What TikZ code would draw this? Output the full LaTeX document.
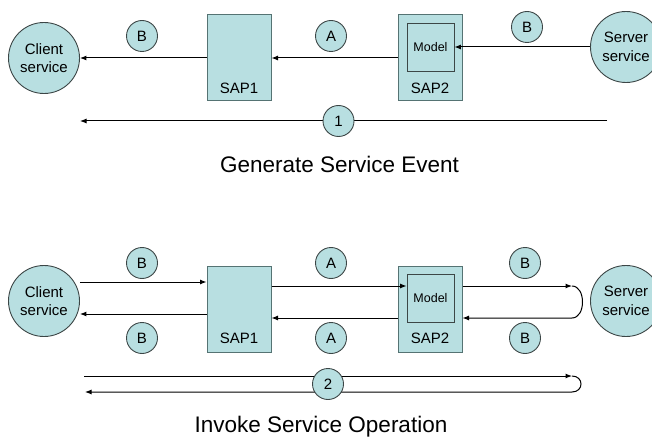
\documentclass[tikz,border=0pt]{standalone}
\usepackage{fontspec}
\setmainfont{Liberation Sans}
\usetikzlibrary{arrows.meta}
\definecolor{svcfill}{RGB}{184,223,225}
\definecolor{sapedge}{RGB}{85,115,115}
\definecolor{ringedge}{RGB}{60,70,70}
\begin{document}
\begin{tikzpicture}[x=1pt,y=-1pt,
  svc/.style={circle,draw=ringedge,fill=svcfill,line width=0.9pt,minimum size=71pt,
    inner sep=0pt,align=center,font=\fontsize{15}{18.5}\selectfont},
  tag/.style={circle,draw=ringedge,fill=svcfill,line width=0.9pt,minimum size=31pt,
    inner sep=0pt,font=\fontsize{15}{18}\selectfont},
  sapbox/.style={rectangle,draw=sapedge,fill=svcfill,line width=1pt,
    minimum width=64pt,minimum height=86pt,inner sep=0pt},
  modelbox/.style={rectangle,draw=ringedge,fill=svcfill,line width=0.9pt,
    minimum width=47pt,minimum height=48pt,inner sep=0pt,font=\fontsize{12.5}{15}\selectfont},
  saplabel/.style={inner sep=0pt,font=\fontsize{15}{18}\selectfont},
  caption/.style={inner sep=0pt,anchor=base,font=\fontsize{22.5}{27}\selectfont},
  flow/.style={line width=1pt,-{Latex[length=6.5pt,width=5pt]}}]
\useasboundingbox (0,0) rectangle (652,438);

% ---------- Generate Service Event ----------
\node[svc] (client1) at (44,58) {Client\\service};
\node[svc] (server1) at (626,47) {Server\\service};
\node[sapbox] (sap1a) at (239,58) {};
\node[saplabel] (sap1aL) at (239,88) {SAP1};
\node[sapbox] (sap2a) at (430,58) {};
\node[modelbox] (model1) at (430.5,47) {Model};
\node[saplabel] (sap2aL) at (430,88) {SAP2};

\draw[flow] (server1) -- (model1);
\draw[flow] (sap2a) -- (sap1a);
\draw[flow] (sap1a) -- (client1);

\node[tag] (tagB1) at (142,36) {B};
\node[tag] (tagA1) at (331,36) {A};
\node[tag] (tagB2) at (527,27) {B};

\coordinate (ev1s) at (607,121);
\coordinate (ev1e) at (80,121);
\draw[flow] (ev1s) -- (ev1e);
\node[tag] (step1) at (338.5,121) {1};

\node[caption] (cap1) at (339.5,173) {Generate Service Event};

% ---------- Invoke Service Operation ----------
\node[svc] (client2) at (44,301) {Client\\service};
\node[svc] (server2) at (626,301) {Server\\service};
\node[sapbox] (sap1b) at (239,309.5) {};
\node[saplabel] (sap1bL) at (239,338) {SAP1};
\node[sapbox] (sap2b) at (430,309.5) {};
\node[modelbox] (model2) at (430.5,298) {Model};
\node[saplabel] (sap2bL) at (430,338) {SAP2};

\draw[flow] (client2.east |- 0,282) -- (sap1b.west |- 0,282);
\draw[flow] (sap1b.west |- 0,314) -- (client2.east |- 0,314);
\draw[flow] (sap1b.east |- 0,286) -- (model2.west |- 0,286);
\draw[flow] (sap2b.west |- 0,318) -- (sap1b.east |- 0,318);

\coordinate (turnA) at (572,286);
\coordinate (turnB) at (572,318);
\draw[flow] (sap2b.east |- 0,286) -- (turnA);
\draw[flow] (turnA) .. controls (586,286) and (586,318) .. (turnB) -- (sap2b.east |- 0,318);

\node[tag] (tagB3) at (142,263) {B};
\node[tag] (tagB4) at (142,338) {B};
\node[tag] (tagA2) at (331,263) {A};
\node[tag] (tagA3) at (331,338) {A};
\node[tag] (tagB5) at (525,263) {B};
\node[tag] (tagB6) at (525,338) {B};

\coordinate (op0) at (84,376);
\coordinate (op1) at (572,376);
\coordinate (op2) at (572,392);
\coordinate (op3) at (85,392);
\draw[flow] (op0) -- (op1);
\draw[flow] (op1) .. controls (584,376) and (584,392) .. (op2) -- (op3);
\node[tag] (step2) at (328,384) {2};

\node[caption] (cap2) at (321,432) {Invoke Service Operation};
\end{tikzpicture}
\end{document}
